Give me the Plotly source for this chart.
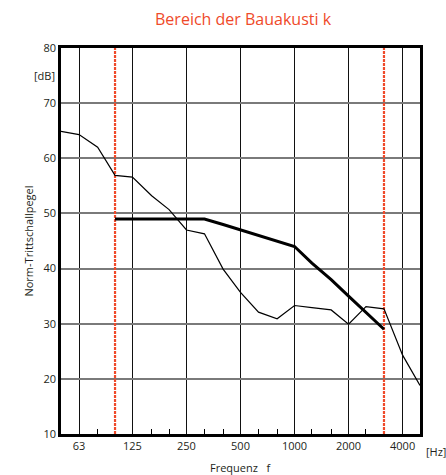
import plotly.graph_objects as go

# third-octave band centre frequencies [Hz]
freqs = [50, 63, 80, 100, 125, 160, 200, 250, 315, 400, 500, 630, 800,
         1000, 1250, 1600, 2000, 2500, 3150, 4000, 5000]
# measured normalised impact sound level [dB]
measured = [64.9, 64.3, 62.0, 56.9, 56.6, 53.2, 50.7, 47.0, 46.3, 39.9, 35.7,
            32.1, 30.9, 33.3, 32.9, 32.5, 29.9, 33.1, 32.7, 24.3, 18.8]

# shifted reference curve (100 - 3150 Hz)
ref_freqs = [100, 125, 160, 200, 250, 315, 400, 500, 630, 800, 1000,
             1250, 1600, 2000, 2500, 3150]
ref_values = [49, 49, 49, 49, 49, 49, 48, 47, 46, 45, 44, 41, 38, 35, 32, 29]

# limits of the building acoustics range
range_limits = [100, 3150]

tick_vals = [63, 125, 250, 500, 1000, 2000, 4000]
tick_text = ["63", "125", "250", "500", "1000", "2000", "4000"]
minor_vals = [80, 160, 200, 315, 400, 630, 800, 1250, 1600, 2500]

red = "#ef4a2a"
font = "Open Sans, Noto Sans, sans-serif"

fig = go.Figure()

for f in range_limits:
    fig.add_trace(go.Scatter(x=[f, f], y=[10, 80], mode="lines",
                             line=dict(color=red, width=2.2, dash="3px,1px"),
                             hoverinfo="skip"))

fig.add_trace(go.Scatter(x=freqs, y=measured, mode="lines",
                         line=dict(color="black", width=1.2)))
fig.add_trace(go.Scatter(x=ref_freqs, y=ref_values, mode="lines",
                         line=dict(color="black", width=3)))

fig.update_layout(
    width=446, height=475,
    margin=dict(l=61, r=26, t=48, b=41),
    paper_bgcolor="white", plot_bgcolor="white",
    showlegend=False,
    font=dict(family=font, size=11, color="#231f20"),
    title=dict(text="Bereich der Bauakusti k", x=0.545, xanchor="center",
               y=0.96, yanchor="middle",
               font=dict(family=font, size=16, color=red)),
)

fig.update_xaxes(
    type="log", range=[1.69897, 3.69897],
    tickmode="array", tickvals=tick_vals, ticktext=tick_text,
    ticks="", showgrid=True, gridcolor="#111111", gridwidth=1,
    showline=True, linecolor="black", linewidth=2.5, mirror=True,
    zeroline=False,
    minor=dict(tickvals=minor_vals, ticks="inside", ticklen=5,
               tickcolor="black", tickwidth=1, showgrid=False),
)

fig.update_yaxes(
    range=[10, 80], tickmode="array", tickvals=list(range(10, 81, 10)),
    ticks="", showgrid=True, gridcolor="#7a7a7a", gridwidth=1.5,
    showline=True, linecolor="black", linewidth=2.5, mirror=True,
    zeroline=False,
    title=dict(text="Norm-Trittschallpegel", standoff=8,
               font=dict(family=font, size=11)),
)

fig.add_annotation(text="[dB]", xref="paper", yref="paper", x=-0.01, y=0.93,
                   xanchor="right", yanchor="middle", showarrow=False)
fig.add_annotation(text="[Hz]", xref="paper", yref="paper", x=1.01, y=-0.045,
                   xanchor="left", yanchor="middle", showarrow=False)
fig.add_annotation(text="Frequenz\u00a0\u00a0\u00a0f", xref="paper", yref="paper",
                   x=0.5, y=-0.088, xanchor="center", yanchor="middle",
                   showarrow=False)

fig.write_html("out.html", config={"displayModeBar": False},
               post_script="document.body.style.margin='0';"
                           "document.body.style.overflow='hidden';")
